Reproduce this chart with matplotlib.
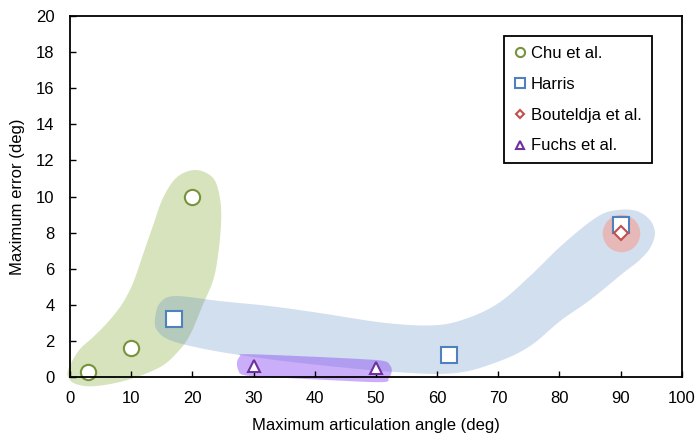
import numpy as np
import matplotlib
matplotlib.use("Agg")
import matplotlib.pyplot as plt
from matplotlib.patches import Polygon

plt.rcParams['font.family'] = ['Liberation Sans', 'DejaVu Sans']

# daten
chu_x = [3, 10, 20]
chu_y = [0.3, 1.6, 10.0]
harris_x = [17, 62, 90]
harris_y = [3.2, 1.2, 8.4]
bout_x = [90]
bout_y = [8.0]
fuchs_x = [30, 50]
fuchs_y = [0.6, 0.5]

green_area_x = [20.6, 23.4, 24.5, 24.7, 24.2, 23.4, 21.7, 19.6, 17.6, 14.7, 9.3,
                4.1, 1.0, -0.3, -0.2, 1.5, 3.8, 6.2, 8.5, 10.3, 11.9, 13.6, 15.2, 17.5]
green_area_y = [11.47, 11.02, 9.92, 8.59, 6.76, 5.37, 3.99, 2.33, 1.39, 0.55, -0.17,
                -0.50, -0.39, 0.0, 0.50, 1.50, 2.22, 3.05, 4.04, 5.21, 6.76, 8.42,
                9.92, 11.08]
blue_area_x = [14.7, 17.2, 24.5, 32.7, 40.8, 51.8, 60.0, 65.4, 70.3, 75.2, 80.6, 86.1,
               89.4, 92.6, 94.8, 95.6, 94.9, 93.1, 90.4, 85.0, 80.1, 75.2, 69.8, 62.9,
               53.1, 37.6, 27.8, 21.2, 16.3, 14.2, 13.9]
blue_area_y = [4.10, 4.49, 4.21, 3.93, 3.55, 2.99, 2.88, 3.32, 4.16, 5.60, 7.37, 8.86,
               9.25, 9.20, 8.70, 7.98, 7.20, 6.48, 5.76, 4.27, 3.10, 1.72, 0.83, 0.22,
               0.28, 0.78, 1.22, 1.61, 2.05, 2.60, 3.27]
purple_area_x = [28.6, 37.6, 47.4, 51.3, 52.3, 52.6, 52.1, 51.0, 42.5, 32.7, 28.4,
                 27.5, 27.3, 27.8]
purple_area_y = [1.27, 1.16, 1.00, 0.89, 0.66, 0.33, -0.06, -0.28, -0.17, 0.0, 0.11,
                 0.39, 0.83, 1.16]


def glatt(xs, ys, n=12):
    """geschlossene Catmull-Rom Kurve durch die Umrisspunkte"""
    p = np.column_stack([xs, ys])
    k = len(p)
    out = []
    for i in range(k):
        p0, p1, p2, p3 = p[i - 1], p[i], p[(i + 1) % k], p[(i + 2) % k]
        for t in np.linspace(0, 1, n, endpoint=False):
            out.append(0.5 * (2 * p1 + (-p0 + p2) * t
                              + (2 * p0 - 5 * p1 + 4 * p2 - p3) * t ** 2
                              + (-p0 + 3 * p1 - 3 * p2 + p3) * t ** 3))
    return np.array(out)


fig = plt.figure(figsize=(7, 4.4), dpi=100)
ax = fig.add_axes([0.1, 0.143, 0.874, 0.8206])

ax.add_patch(Polygon(glatt(green_area_x, green_area_y), closed=True,
                     fc='#9BBB59', alpha=0.4, ec='none', clip_on=False, zorder=1))
ax.add_patch(Polygon(glatt(blue_area_x, blue_area_y), closed=True,
                     fc='#4F81BD', alpha=0.25, ec='none', clip_on=False, zorder=1))
ax.add_patch(Polygon(glatt(purple_area_x, purple_area_y), closed=True,
                     fc='#8A4DF2', alpha=0.45, ec='none', clip_on=False, zorder=1))
# roter kreis um bouteldja
ax.plot(bout_x, bout_y, 'o', ms=27, color='#E6B9B8', mec='none', zorder=2)

ax.plot(chu_x, chu_y, 'o', ms=11, mfc='white', mec='#77933C', mew=1.5,
        ls='none', label='Chu et al.', zorder=3, clip_on=False)
ax.plot(harris_x, harris_y, 's', ms=11, mfc='white', mec='#4F81BD', mew=1.5,
        ls='none', label='Harris', zorder=3)
ax.plot(bout_x, bout_y, 'D', ms=7.5, mfc='white', mec='#C0504D', mew=1.5,
        ls='none', label='Bouteldja et al.', zorder=4)
ax.plot(fuchs_x, fuchs_y, '^', ms=9, mfc='white', mec='#7030A0', mew=1.5,
        ls='none', label='Fuchs et al.', zorder=3)

ax.set_xlim(0, 100)
ax.set_ylim(0, 20)
ax.set_xticks(range(0, 101, 10))
ax.set_yticks(range(0, 21, 2))
ax.tick_params(direction='in', length=4, width=1, labelsize=12, color='black')
ax.tick_params(axis='x', pad=10)
ax.tick_params(axis='y', pad=11)
for s in ax.spines.values():
    s.set_linewidth(1.3)
    s.set_zorder(5)

ax.set_xlabel('Maximum articulation angle (deg)', fontsize=12, labelpad=9)
ax.set_ylabel('Maximum error (deg)', fontsize=12, labelpad=8)

leg = ax.legend(loc='upper right', bbox_to_anchor=(0.951, 0.945), borderaxespad=0,
                fontsize=12, markerscale=0.6, handlelength=0.7, handletextpad=0.3,
                labelspacing=0.95, borderpad=0.6, fancybox=False, framealpha=1,
                edgecolor='black')
leg.get_frame().set_linewidth(1.3)

plt.savefig('out.png', dpi=100)
